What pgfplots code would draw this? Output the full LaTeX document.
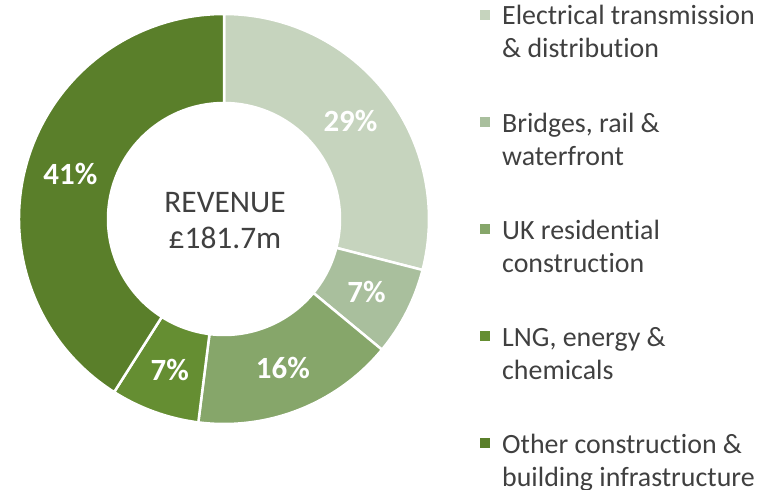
\documentclass[border=0pt]{standalone}
\usepackage{pgfplots}
\pgfplotsset{compat=1.18}
\usepackage{fontspec}
\setmainfont{Carlito}[Ligatures=NoCommon]

\definecolor{segA}{HTML}{C6D4BE}
\definecolor{segB}{HTML}{A9BF9D}
\definecolor{segC}{HTML}{86A66A}
\definecolor{segD}{HTML}{658E32}
\definecolor{segE}{HTML}{5A7F2A}
\definecolor{txt}{HTML}{404040}

\begin{document}
\begin{tikzpicture}
\useasboundingbox (0,0) rectangle (757bp,490bp);
\begin{axis}[
    at={(0,0)}, anchor=south west,
    x=1bp, y=1bp, scale only axis,
    xmin=0, xmax=757, ymin=0, ymax=490,
    hide axis, clip=false,
]
% donut: revenue shares (%), clockwise from 12 o'clock
\pgfplotsextra{
  \xdef\curang{90}
  \foreach \v/\c in {29/segA, 7/segB, 16/segC, 7/segD, 41/segE}{
    \pgfmathsetmacro{\endang}{\curang-3.6*\v}
    \pgfmathsetmacro{\midang}{\curang-1.8*\v}
    \fill[\c, draw=white, line width=2.5bp]
      (axis cs:224,271) ++(\curang:205bp)
      arc[start angle=\curang, end angle=\endang, radius=205bp]
      -- ++(\endang:-89bp)
      arc[start angle=\endang, end angle=\curang, radius=116bp]
      -- cycle;
    \path (axis cs:224,271) ++(\midang:160bp)
      node[text=white, font=\fontsize{31}{36}\selectfont\bfseries] {\v\%};
    \xdef\curang{\endang}
  }
}

% centre text
\node[txt, anchor=base, font=\fontsize{31.5}{36}\selectfont] at (axis cs:225,278) {REVENUE};
\node[txt, anchor=base, font=\fontsize{31.5}{36}\selectfont] at (axis cs:225,242) {£181.7m};

% legend
\pgfplotsextra{
  \foreach \c/\la/\lb [count=\i from 0] in {
      segA/{Electrical transmission}/{\& distribution},
      segB/{Bridges, rail \&}/{waterfront},
      segC/{UK residential}/{construction},
      segD/{LNG, energy \&}/{chemicals},
      segE/{Other construction \&}/{building infrastructure}}{
    \pgfmathsetmacro{\yy}{490-107*\i}
    \fill[\c] (axis cs:480,\yy-20.5) rectangle (axis cs:490,\yy-10.5);
    \node[txt, anchor=base west, inner sep=0pt, font=\fontsize{28}{33}\selectfont]
      at (axis cs:502,\yy-25) {\la};
    \node[txt, anchor=base west, inner sep=0pt, font=\fontsize{28}{33}\selectfont]
      at (axis cs:502,\yy-58) {\lb};
  }
}
\end{axis}
\end{tikzpicture}
\end{document}
